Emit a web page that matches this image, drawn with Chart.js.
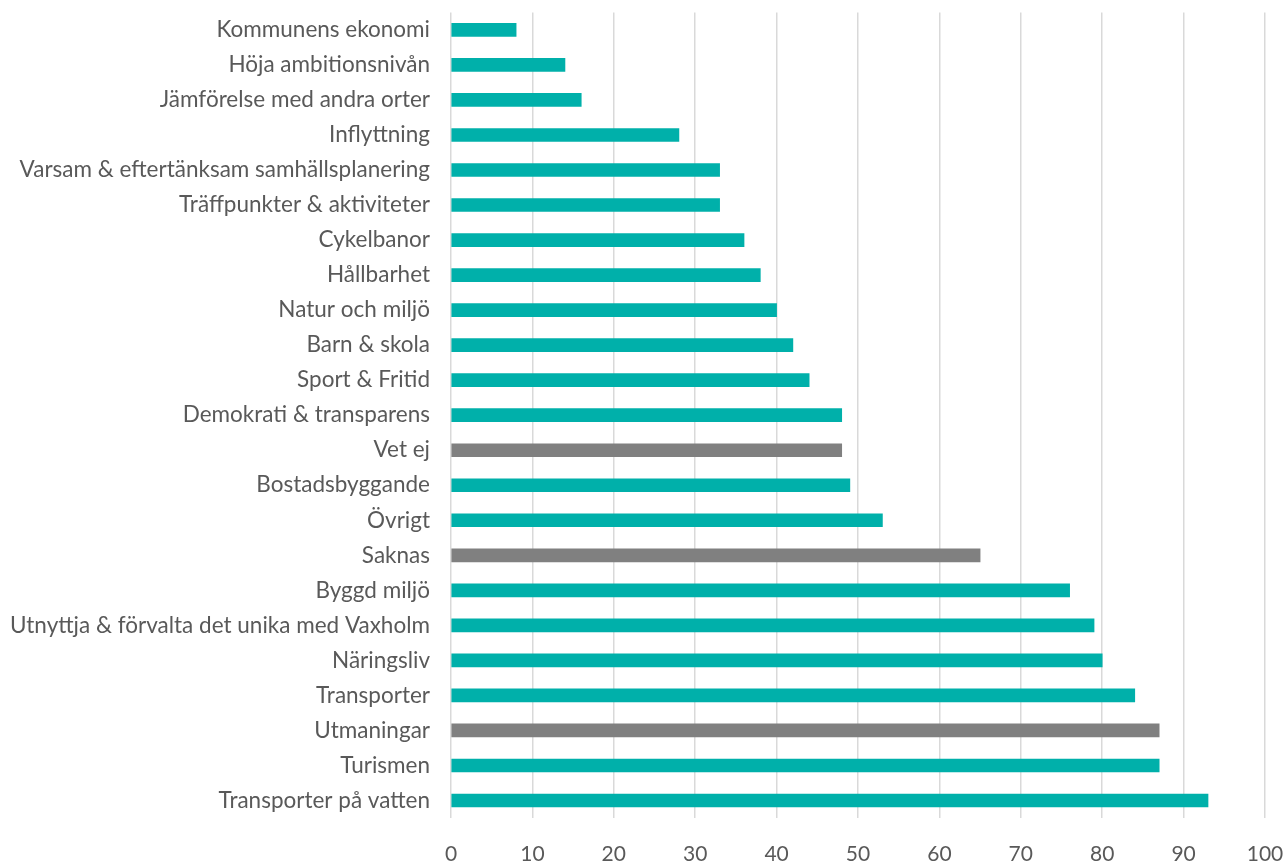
<!DOCTYPE html>
<html>
<head>
<meta charset="utf-8">
<script src="https://cdn.jsdelivr.net/npm/chart.js@4/dist/chart.umd.min.js"></script>
<style>
html,body{margin:0;padding:0;background:#fff;}
#wrap{width:1285px;height:863px;}
</style>
</head>
<body>
<div id="wrap"><canvas id="c" width="1285" height="863"></canvas></div>
<script>
const categories = [
  "Kommunens ekonomi",
  "Höja ambitionsnivån",
  "Jämförelse med andra orter",
  "Inflyttning",
  "Varsam & eftertänksam samhällsplanering",
  "Träffpunkter & aktiviteter",
  "Cykelbanor",
  "Hållbarhet",
  "Natur och miljö",
  "Barn & skola",
  "Sport & Fritid",
  "Demokrati & transparens",
  "Vet ej",
  "Bostadsbyggande",
  "Övrigt",
  "Saknas",
  "Byggd miljö",
  "Utnyttja & förvalta det unika med Vaxholm",
  "Näringsliv",
  "Transporter",
  "Utmaningar",
  "Turismen",
  "Transporter på vatten"
];
const values = [8, 14, 16, 28, 33, 33, 36, 38, 40, 42, 44, 48, 48, 49, 53, 65, 76, 79, 80, 84, 87, 87, 93];
const greyCategories = ["Vet ej", "Saknas", "Utmaningar"];
const xTicks = [0,10,20,30,40,50,60,70,80,90,100];

const TEAL = "#00B0AA";
const GREY = "#808080";
const barColors = categories.map(c => greyCategories.includes(c) ? GREY : TEAL);

new Chart(document.getElementById("c"), {
  type: "bar",
  data: {
    labels: categories,
    datasets: [{
      data: values,
      backgroundColor: barColors,
      borderWidth: 0,
      barThickness: 13,
      categoryPercentage: 1,
      barPercentage: 1
    }]
  },
  options: {
    indexAxis: "y",
    responsive: false,
    animation: false,
    layout: { padding: { top: 1, right: 20, left: 0, bottom: 0 } },
    plugins: { legend: { display: false }, tooltip: { enabled: false } },
    scales: {
      x: {
        min: 0, max: 100,
        afterBuildTicks: (s) => { s.ticks = xTicks.map(v => ({ value: v })); },
        grid: { color: "#D9D9D9", lineWidth: 1.5, drawTicks: true, tickLength: 24, tickColor: "rgba(0,0,0,0)" },
        border: { display: false },
        ticks: { color: "#595959", font: { family: "Lato", size: 21 }, padding: 0 },
        afterFit: (s) => { s.height = 45; }
      },
      y: {
        grid: { display: true, drawOnChartArea: false, drawTicks: true, tickLength: 21, tickColor: "rgba(0,0,0,0)", color: "rgba(0,0,0,0)" },
        border: { display: false },
        ticks: { color: "#595959", font: { family: "Lato", size: 22.5, lineHeight: 1.1 }, padding: 0, autoSkip: false },
        afterFit: (s) => { s.width = 451; }
      }
    }
  }
});
</script>
</body>
</html>
